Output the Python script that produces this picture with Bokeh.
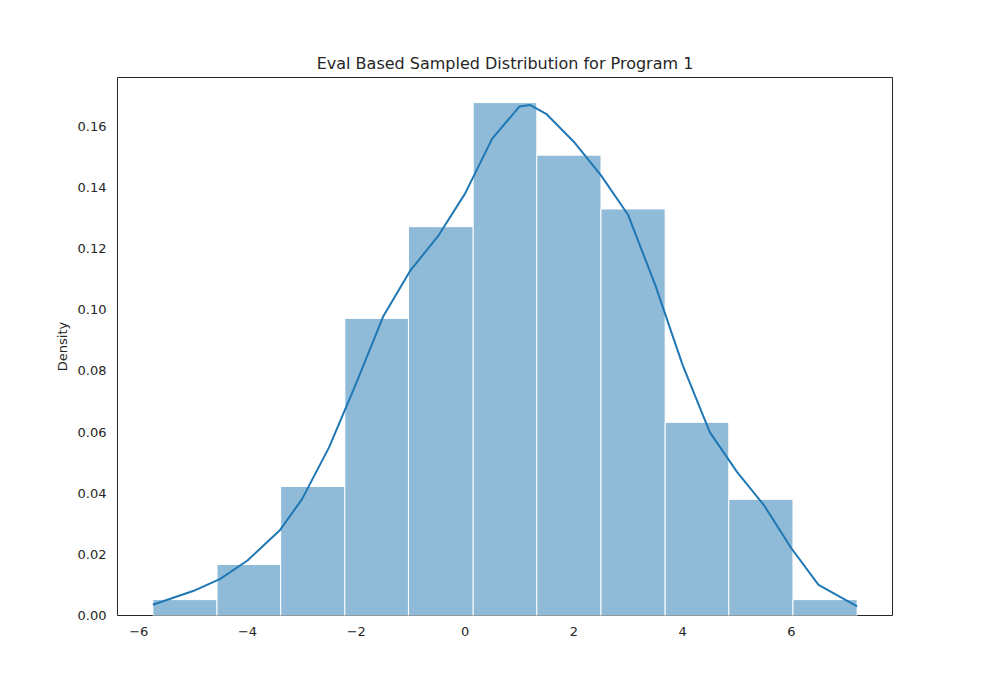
import numpy as np
from bokeh.plotting import figure
from bokeh.embed import file_html
from bokeh.resources import INLINE

# histogram bins (density)
edges = [-5.74, -4.56, -3.39, -2.21, -1.04, 0.15, 1.32, 2.50, 3.68, 4.85, 6.03, 7.21]
density = [0.0052, 0.0167, 0.0422, 0.0972, 0.1272, 0.1678, 0.1506, 0.1330, 0.0632, 0.0380, 0.0052]

# kde curve
kde_x = [-5.74, -5.0, -4.5, -4.0, -3.4, -3.0, -2.5, -2.0, -1.5, -1.0, -0.5, 0.0,
         0.5, 1.0, 1.2, 1.5, 2.0, 2.5, 3.0, 3.5, 4.0, 4.5, 5.0, 5.5, 6.0, 6.5, 7.21]
kde_y = [0.0035, 0.008, 0.012, 0.018, 0.028, 0.038, 0.055, 0.076, 0.098, 0.113, 0.124, 0.138,
         0.156, 0.1665, 0.167, 0.164, 0.155, 0.144, 0.131, 0.108, 0.082, 0.060, 0.047, 0.036, 0.022, 0.010, 0.003]

p = figure(width=984, height=684, output_backend="svg", toolbar_location=None,
           title="Eval Based Sampled Distribution for Program 1",
           x_range=(-6.39, 7.86), y_range=(0, 0.176),
           min_border_left=117, min_border_right=92, min_border_top=77, min_border_bottom=69)

p.quad(left=edges[:-1], right=edges[1:], bottom=0, top=density,
       fill_color="#1f77b4", fill_alpha=0.5, line_color="white", line_width=1)
p.line(kde_x, kde_y, line_color="#1f77b4", line_width=2)

p.title.align = "center"
p.title.text_font = "DejaVu Sans"
p.title.text_font_size = "16px"
p.title.text_font_style = "normal"
p.title.text_color = "#262626"

p.xgrid.visible = False
p.ygrid.visible = False
p.outline_line_color = "#262626"
p.outline_line_width = 1

p.xaxis.ticker = [-6, -4, -2, 0, 2, 4, 6]
p.yaxis.ticker = [0.0, 0.02, 0.04, 0.06, 0.08, 0.10, 0.12, 0.14, 0.16]
p.yaxis.major_label_overrides = {0.0: "0.00", 0.02: "0.02", 0.04: "0.04", 0.06: "0.06", 0.08: "0.08",
                                 0.10: "0.10", 0.12: "0.12", 0.14: "0.14", 0.16: "0.16"}
p.xaxis.major_label_overrides = {-6: "\u22126", -4: "\u22124", -2: "\u22122"}
p.yaxis.axis_label = "Density"
for ax in (p.xaxis, p.yaxis):
    ax.axis_line_color = None
    ax.major_tick_line_color = None
    ax.minor_tick_line_color = None
    ax.major_label_text_font = "DejaVu Sans"
    ax.major_label_text_font_size = "13px"
    ax.major_label_text_color = "#262626"
    ax.axis_label_text_font = "DejaVu Sans"
    ax.axis_label_text_font_size = "13px"
    ax.axis_label_text_font_style = "normal"
    ax.axis_label_text_color = "#262626"

open("out.html", "w").write(file_html(p, INLINE))
